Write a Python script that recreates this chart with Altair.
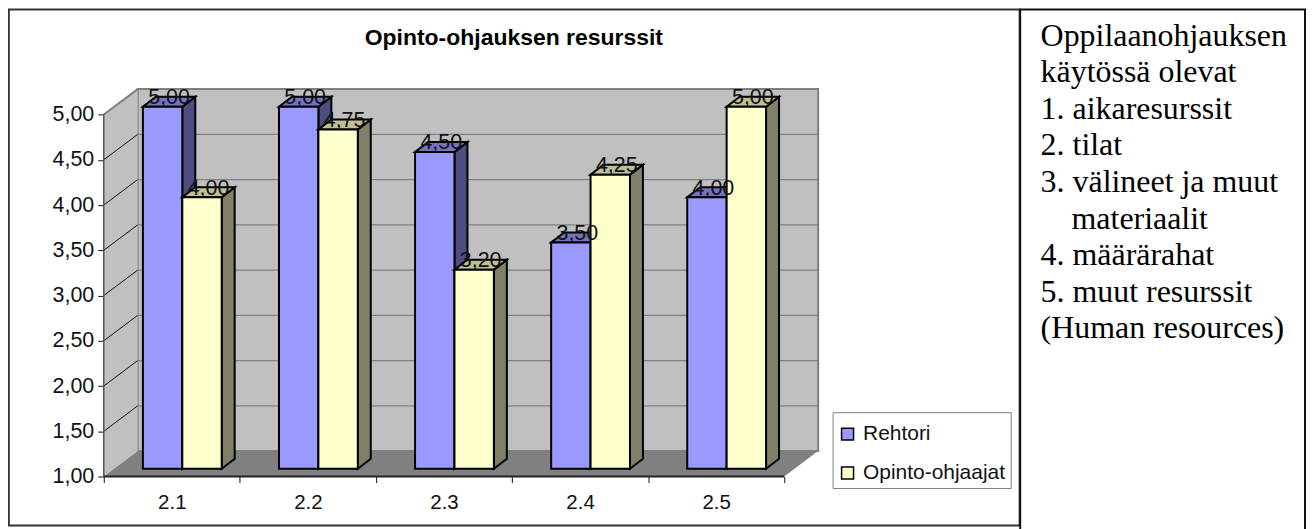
import altair as alt
import pandas as pd

categories = ["2.1", "2.2", "2.3", "2.4", "2.5"]
series_names = ["Rehtori", "Opinto-ohjaajat"]
rehtori = [5.00, 5.00, 4.50, 3.50, 4.00]
ohjaajat = [4.00, 4.75, 3.20, 4.25, 5.00]
y_ticks = [1.0, 1.5, 2.0, 2.5, 3.0, 3.5, 4.0, 4.5, 5.0]
note_lines = ["Oppilaanohjauksen", "käytössä olevat", "1. aikaresurssit", "2. tilat", "3. välineet ja muut",
              "materiaalit", "4. määrärahat", "5. muut resurssit", "(Human resources)"]

front = {"Rehtori": "#9999FF", "Opinto-ohjaajat": "#FFFFCC"}
side = {"Rehtori": "#4D4D80", "Opinto-ohjaajat": "#808066"}
top = {"Rehtori": "#7373BF", "Opinto-ohjaajat": "#BFBF99"}

PW, PH = 716, 388
UX, UY = 136.4, 90.7
XMAX, YMAX = PW / UX, 1 + PH / UY
DX, DY = 34 / UX, 25.5 / UY       # chart depth
FX, FY = 10.5 / UX, 7.8 / UY      # bar front plane offset
BW = 39.5 / UX                    # bar width
BX, BY = 13 / UX, 10 / UY         # bar depth

xs = alt.Scale(domain=[0, XMAX], nice=False, zero=False)
ys = alt.Scale(domain=[1, YMAX], nice=False, zero=False)
X = lambda f: alt.X(f, type="quantitative", scale=xs, axis=None, title=None)
Y = lambda f: alt.Y(f, type="quantitative", scale=ys, axis=None, title=None, stack=None)

GREY = "#808080"
WALL = "#C0C0C0"

# --- room
back_wall = alt.Chart(pd.DataFrame({"x": [DX], "x2": [5 + DX], "y": [1 + DY], "y2": [5 + DY]})).mark_rect(
    fill=WALL, stroke=GREY, strokeWidth=2).encode(x=X("x"), x2="x2", y=Y("y"), y2="y2")
left_wall = alt.Chart(pd.DataFrame({"x": [0, DX], "y": [1, 1 + DY], "y2": [5, 5 + DY]})).mark_area(
    fill=WALL, orient="vertical").encode(x=X("x"), y=Y("y"), y2="y2")
floor = alt.Chart(pd.DataFrame({"y": [1, 1 + DY], "x": [0, DX], "x2": [5, 5 + DX]})).mark_area(
    fill=GREY, orient="horizontal").encode(y=Y("y"), x=X("x"), x2="x2")
grid_vals = y_ticks[1:-1]
back_grid = alt.Chart(pd.DataFrame({"x": DX, "x2": 5 + DX, "y": [v + DY for v in grid_vals]})).mark_rule(
    color=GREY, strokeWidth=1.2).encode(x=X("x"), x2="x2", y=Y("y"))
diag = alt.Chart(pd.DataFrame({"x": 0.0, "x2": DX, "y": grid_vals, "y2": [v + DY for v in grid_vals]})).mark_rule(
    color="#111111", strokeWidth=1).encode(x=X("x"), x2="x2", y=Y("y"), y2="y2")
diag_top = alt.Chart(pd.DataFrame({"x": [0.0], "x2": [DX], "y": [5.0], "y2": [5 + DY]})).mark_rule(
    color=GREY, strokeWidth=2).encode(x=X("x"), x2="x2", y=Y("y"), y2="y2")
axis_y_line = alt.Chart(pd.DataFrame({"x": [0.0], "y": [1.0], "y2": [5.0]})).mark_rule(
    color="#555555", strokeWidth=1.5).encode(x=X("x"), y=Y("y"), y2="y2")
axis_x_line = alt.Chart(pd.DataFrame({"x": [0.0], "x2": [5.0], "y": [1.0]})).mark_rule(
    color="#222222", strokeWidth=2).encode(x=X("x"), x2="x2", y=Y("y"))

# --- axes
y_axis = alt.Chart(pd.DataFrame({"v": y_ticks})).mark_point(opacity=0).encode(
    y=alt.Y("v:Q", scale=ys, title=None, axis=alt.Axis(
        orient="left", values=y_ticks, domain=False, grid=False, tickColor="#111111", tickSize=6, tickWidth=1,
        labelExpr="replace(format(datum.value,'.2f'),'.',',')", labelFont="Liberation Sans",
        labelFontSize=21.5, labelColor="#111111", labelPadding=4)))
x_ticks = alt.Chart(pd.DataFrame({"v": list(range(6))})).mark_point(opacity=0).encode(
    x=alt.X("v:Q", scale=xs, title=None, axis=alt.Axis(
        orient="bottom", values=list(range(6)), domain=False, grid=False, labels=False,
        tickColor="#111111", tickSize=6, tickWidth=1)))
x_labels = alt.Chart(pd.DataFrame({"v": [i + 0.5 for i in range(5)], "c": categories})).mark_point(opacity=0).encode(
    x=alt.X("v:Q", scale=xs, title=None, axis=alt.Axis(
        orient="bottom", values=[i + 0.5 for i in range(5)], domain=False, grid=False, ticks=False,
        labelExpr="'2.' + format(datum.value + 0.5, 'd')", labelFont="Liberation Sans",
        labelFontSize=20.5, labelColor="#111111", labelPadding=16)))

# --- bars
rows = []
for s, (name, vals) in enumerate(zip(series_names, [rehtori, ohjaajat])):
    for i, v in enumerate(vals):
        xl = i + 0.5 + FX - BW + s * BW
        rows.append(dict(series=name, bar=f"{s}-{i}", xl=xl, xr=xl + BW, base=1 + FY, val=v + FY,
                         lab=f"{v:.2f}".replace(".", ","), lx=xl + BW / 2 + BX / 2))
bars = pd.DataFrame(rows)

layers_bars = []
for name in series_names:
    d = bars[bars.series == name]
    side_rows = pd.concat([
        pd.DataFrame({"bar": d.bar, "x": d.xr, "y": d.base, "y2": d.val}),
        pd.DataFrame({"bar": d.bar, "x": d.xr + BX, "y": d.base + BY, "y2": d.val + BY})])
    top_rows = pd.concat([
        pd.DataFrame({"bar": d.bar, "y": d.val, "x": d.xl, "x2": d.xr}),
        pd.DataFrame({"bar": d.bar, "y": d.val + BY, "x": d.xl + BX, "x2": d.xr + BX})])
    layers_bars.append(alt.Chart(side_rows).mark_area(
        fill=side[name], stroke="black", strokeWidth=2, orient="vertical").encode(
        x=X("x"), y=Y("y"), y2="y2", detail="bar:N"))
    layers_bars.append(alt.Chart(top_rows).mark_area(
        fill=top[name], stroke="black", strokeWidth=2, orient="horizontal").encode(
        y=Y("y"), x=X("x"), x2="x2", detail="bar:N"))
    layers_bars.append(alt.Chart(d).mark_rect(stroke="black", strokeWidth=2).encode(
        x=X("xl"), x2="xr", y=Y("base"), y2="val",
        fill=alt.Fill("series:N", scale=alt.Scale(domain=series_names, range=[front[n] for n in series_names]),
                      legend=alt.Legend(orient="none", legendX=735, legendY=335, title=None, padding=0,
                                        symbolType="square", symbolSize=144,
                                        symbolStrokeColor="black", symbolStrokeWidth=1.5, labelFont="Liberation Sans",
                                        labelFontSize=21, labelColor="#111111", rowPadding=17, labelOffset=5))))

labels = alt.Chart(bars).mark_text(font="Liberation Sans", fontSize=21.5, color="#111111",
                                   baseline="alphabetic", dy=-2.7).encode(
    x=X("lx"), y=Y("val"), text="lab:N")

# --- frames and note (page furniture, in pixels from the plot origin)
L, T = 96, 81
one = pd.DataFrame({"a": [0]})
frame = alt.Chart(one).mark_rect(fillOpacity=0, stroke="#333333", strokeWidth=2).encode(
    x=alt.value(0.8 - L), x2=alt.value(1014 - L), y=alt.value(0.8 - T), y2=alt.value(518 - T))
note_box = alt.Chart(one).mark_rect(fillOpacity=0, stroke="#111111", strokeWidth=2).encode(
    x=alt.value(1014.5 - L), x2=alt.value(1300 - L), y=alt.value(1 - T), y2=alt.value(540 - T))
legend_box = alt.Chart(one).mark_rect(fill="white", stroke=GREY, strokeWidth=1).encode(
    x=alt.value(731), x2=alt.value(909.5), y=alt.value(324), y2=alt.value(400))
note = []
for i, line in enumerate(note_lines):
    note.append(alt.Chart(one).mark_text(
        font="Liberation Serif", fontSize=32, align="left", baseline="alphabetic", color="black").encode(
        x=alt.value((1074 if line == "materiaalit" else 1043) - 8 - L),
        y=alt.value(45 + 36.7 * i - 8 - T), text=alt.value(line)))

chart = alt.layer(
    frame, note_box, *note,
    back_wall, left_wall, floor, back_grid, diag, diag_top, axis_y_line, axis_x_line,
    y_axis, x_ticks, x_labels, *layers_bars, labels, legend_box,
).resolve_axis(x="independent", y="independent").properties(
    width=PW, height=PH,
    padding={"left": L, "top": T, "right": 1301 - L - PW, "bottom": 521 - T - PH},
    autosize=alt.AutoSizeParams(type="none"),
    background="white",
    title=alt.TitleParams("Opinto-ohjauksen resurssit", font="Liberation Sans", fontSize=23, fontWeight="bold",
                          color="black", anchor="middle", frame="group", dx=53, offset=-42),
).configure_view(stroke=None)

chart.save("out.html", embed_options={"renderer": "svg", "actions": False})
